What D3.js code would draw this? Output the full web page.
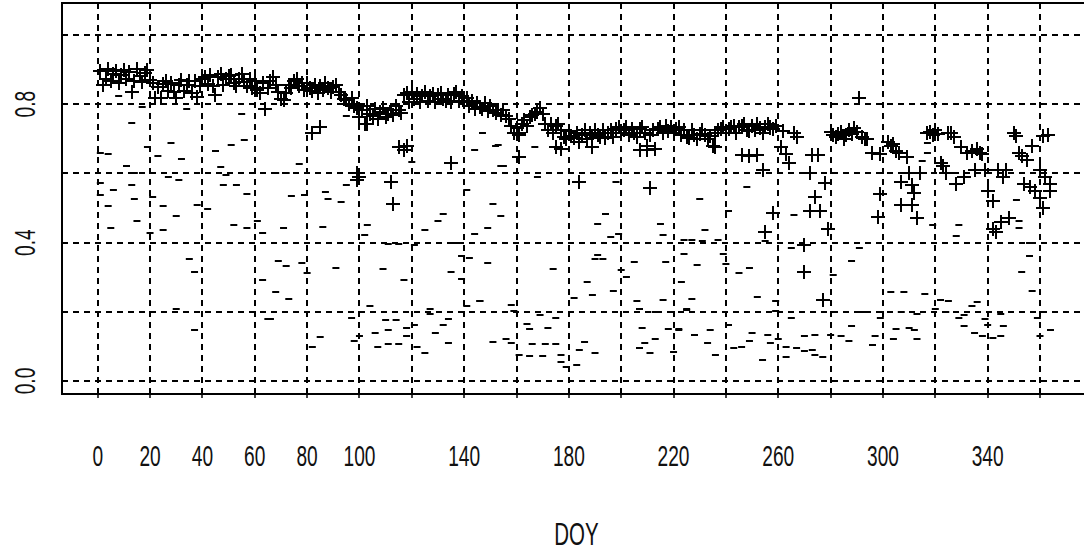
<!DOCTYPE html>
<html>
<head>
<meta charset="utf-8">
<script src="https://cdn.jsdelivr.net/npm/d3@7/dist/d3.min.js"></script>
<style>
  html, body { margin: 0; padding: 0; background: #fff; }
  svg { display: block; }
  .lbl { font-family: "Liberation Sans", Arial, sans-serif; fill: #111; }
</style>
</head>
<body>
<svg id="chart" width="1084" height="552"></svg>
<script>
// ---- data -------------------------------------------------------------
// "+" series: daily values for DOY 1..258 (index i -> DOY i + 1)
const plusDaily = [
  0.895,0.856,0.872,0.901,0.868,0.888,0.897,0.862,0.884,0.899,
  0.872,0.893,0.836,0.868,0.902,0.881,0.864,0.889,0.898,0.870,
  0.862,0.818,0.850,0.817,0.858,0.868,0.838,0.862,0.835,0.817,
  0.856,0.870,0.838,0.855,0.866,0.832,0.868,0.820,0.852,0.872,
  0.880,0.858,0.885,0.852,0.826,0.878,0.886,0.855,0.872,0.881,
  0.884,0.862,0.852,0.874,0.886,0.864,0.852,0.874,0.846,0.866,
  0.842,0.832,0.862,0.787,0.848,0.868,0.878,0.856,0.835,0.815,
  0.812,0.832,0.856,0.848,0.866,0.872,0.852,0.862,0.842,0.860,
  0.846,0.838,0.856,0.832,0.854,0.840,0.862,0.846,0.834,0.850,
  0.856,0.836,0.826,0.815,0.812,0.800,0.818,0.796,0.788,0.762,
  0.784,0.743,0.794,0.772,0.766,0.786,0.758,0.778,0.790,0.762,
  0.772,0.784,0.770,0.794,0.782,0.776,0.826,0.832,0.806,0.836,
  0.816,0.830,0.806,0.824,0.836,0.810,0.824,0.830,0.806,0.826,
  0.832,0.816,0.810,0.826,0.806,0.830,0.835,0.810,0.824,0.806,
  0.818,0.796,0.808,0.786,0.804,0.792,0.786,0.804,0.780,0.794,
  0.782,0.776,0.784,0.770,0.784,0.766,0.756,0.738,0.718,0.732,
  0.712,0.742,0.754,0.736,0.764,0.768,0.772,0.778,0.788,0.772,
  0.742,0.726,0.744,0.716,0.738,0.742,0.726,0.706,0.698,0.722,
  0.708,0.702,0.718,0.690,0.712,0.724,0.698,0.718,0.702,0.724,
  0.712,0.706,0.724,0.702,0.718,0.724,0.706,0.728,0.734,0.716,
  0.724,0.733,0.712,0.728,0.716,0.706,0.728,0.734,0.716,0.680,
  0.712,0.724,0.670,0.728,0.734,0.716,0.738,0.722,0.733,0.716,
  0.728,0.734,0.712,0.724,0.706,0.702,0.724,0.712,0.698,0.714,
  0.724,0.712,0.698,0.708,0.680,0.718,0.724,0.728,0.734,0.716,
  0.728,0.734,0.738,0.716,0.733,0.738,0.744,0.726,0.722,0.738,
  0.726,0.744,0.732,0.718,0.734,0.742,0.732,0.728
];

// "+" series: scattered and late-season observations
const plusExtraDoy = [
  82,85,99,99,100,103,112,113,115,117,118,135,161,161,175,177,184,189,207,210,
  211,236,246,249,252,254,255,258,257,259,261,262,263,264,266,267,270,270,272,272,
  273,274,275,276,277,278,279,280,281,282,283,284,285,286,287,288,289,290,291,292,
  293,294,296,298,299,299,302,303,304,305,306,307,307,309,310,311,311,312,313,314,
  317,318,319,320,321,322,323,324,325,326,327,328,330,331,332,334,335,336,337,338,
  339,340,342,342,343,344,345,346,347,348,350,351,352,353,354,355,356,357,358,360,
  360,361,361,362,363,364,364
];
const plusExtraVal = [
  0.716,0.735,0.600,0.581,0.590,0.743,0.576,0.512,0.677,0.668,0.680,0.630,0.648,0.716,0.677,0.670,0.576,0.677,0.668,0.668,
  0.557,0.677,0.653,0.650,0.653,0.610,0.431,0.485,0.735,0.738,0.675,0.723,0.657,0.630,0.716,0.704,0.393,0.316,0.600,0.490,
  0.653,0.532,0.653,0.490,0.234,0.572,0.438,0.720,0.710,0.705,0.715,0.720,0.700,0.710,0.725,0.715,0.730,0.720,0.817,0.705,
  0.700,0.700,0.660,0.473,0.540,0.655,0.690,0.680,0.685,0.665,0.660,0.509,0.575,0.647,0.600,0.566,0.509,0.542,0.471,0.600,
  0.716,0.720,0.712,0.725,0.715,0.630,0.620,0.600,0.716,0.718,0.705,0.570,0.675,0.590,0.660,0.665,0.610,0.670,0.660,0.657,
  0.610,0.550,0.520,0.440,0.430,0.610,0.460,0.590,0.610,0.470,0.716,0.708,0.660,0.650,0.570,0.640,0.560,0.680,0.550,0.530,
  0.610,0.708,0.500,0.590,0.710,0.550,0.570
];

// "-" series
const dashDoy = [
  1,8,17,13,34,55,28,51,56,19,4,23,32,45,47,11,14,27,31,49,48,53,1,6,13,57,4,14,21,25,30,38,42,1,15,5,20,25,52,57,63,61,35,37,63,30,37,65,
  95,77,68,72,95,74,79,87,88,93,71,86,103,102,111,115,121,125,130,132,137,139,142,144,144,141,120,69,72,78,91,109,117,80,68,73,135,139,146,
  66,97,104,110,114,111,118,121,127,127,134,132,129,85,82,98,100,106,107,111,115,118,122,125,134,141,
  147,153,167,155,168,198,151,154,149,194,191,215,216,196,199,224,191,190,193,149,174,205,217,224,200,202,187,189,197,182,206,216,223,
  158,146,159,169,175,207,213,225,164,165,172,208,218,222,151,156,158,166,171,175,161,165,170,177,177,179,183,184,190,186,209,213,207,211,220,222,152,154,
  248,230,241,266,232,227,231,237,239,255,265,229,240,245,249,281,288,291,227,252,259,225,259,265,292,299,288,241,234,228,250,256,260,270,274,284,287,297,296,
  233,246,249,257,263,267,273,277,263,236,243,254,270,274,280,
  317,315,319,329,328,352,352,351,356,356,353,357,303,308,316,322,325,336,334,331,329,320,324,307,313,339,345,340,346,331,335,338,342,345,312,310,305,313,304,359,364,360,317
];
const dashVal = [
  0.658,0.825,0.792,0.745,0.785,0.771,0.689,0.681,0.697,0.676,0.655,0.650,0.643,0.666,0.618,0.622,0.600,0.589,0.581,0.596,0.566,0.566,0.571,0.551,0.566,0.540,0.505,0.525,0.532,0.505,0.478,0.510,0.497,0.537,0.463,0.443,0.428,0.435,0.450,0.443,0.428,0.463,0.353,0.314,0.291,0.207,0.148,0.178,
  0.765,0.627,0.600,0.600,0.566,0.534,0.537,0.546,0.525,0.517,0.441,0.446,0.450,0.422,0.397,0.397,0.392,0.436,0.463,0.483,0.399,0.360,0.355,0.424,0.669,0.551,0.633,0.347,0.333,0.340,0.328,0.325,0.291,0.313,0.258,0.237,0.314,0.296,0.232,
  0.180,0.181,0.217,0.176,0.176,0.148,0.153,0.163,0.207,0.193,0.180,0.163,0.140,0.127,0.099,0.116,0.129,0.139,0.099,0.106,0.106,0.129,0.099,0.080,0.109,0.217,
  0.718,0.681,0.676,0.620,0.589,0.574,0.512,0.478,0.443,0.483,0.455,0.455,0.422,0.416,0.424,0.407,0.365,0.353,0.353,0.340,0.325,0.345,0.345,0.368,0.320,0.301,0.286,0.250,0.261,0.240,0.232,0.235,0.286,
  0.220,0.232,0.203,0.190,0.183,0.207,0.200,0.205,0.166,0.151,0.153,0.153,0.150,0.150,0.114,0.121,0.109,0.106,0.106,0.106,0.075,0.072,0.072,0.075,0.055,0.040,0.045,0.091,0.080,0.112,0.111,0.121,0.094,0.080,0.085,0.148,0.680,0.622,
  0.561,0.525,0.490,0.480,0.435,0.407,0.406,0.407,0.368,0.404,0.384,0.335,0.337,0.313,0.327,0.306,0.348,0.384,0.237,0.244,0.232,0.207,0.202,0.183,0.200,0.182,0.160,0.163,0.148,0.134,0.139,0.132,0.122,0.129,0.134,0.129,0.117,0.129,0.104,
  0.109,0.099,0.116,0.109,0.099,0.094,0.091,0.070,0.070,0.075,0.096,0.060,0.087,0.075,0.134,
  0.689,0.635,0.451,0.451,0.419,0.463,0.443,0.524,0.399,0.360,0.314,0.261,0.257,0.258,0.252,0.235,0.232,0.229,0.217,0.191,0.183,0.207,0.200,0.200,0.193,0.180,0.193,0.163,0.160,0.160,0.140,0.129,0.124,0.131,0.148,0.153,0.150,0.121,0.121,0.183,0.148,0.129,0.660
];

// axis ticks and labels
const xGridTicks = d3.range(0, 361, 20);
const xTickLabels = [0, 20, 40, 60, 80, 100, 140, 180, 220, 260, 300, 340];
const yGridTicks = [0, 0.2, 0.4, 0.6, 0.8, 1.0];
const yTickLabels = [0, 0.4, 0.8];
const xTitle = "DOY";

// ---- layout -------------------------------------------------------------
const svg = d3.select("#chart");
const plot = { left: 62, top: 3, right: 1091, bottom: 394 };

const x = d3.scaleLinear().domain([0, 360]).range([97.7, 1040]);
const y = d3.scaleLinear().domain([0, 1]).range([381, 35]);
const px = v => Math.round(v);

svg.append("defs").append("clipPath").attr("id", "plotclip")
  .append("rect")
  .attr("x", plot.left).attr("y", plot.top)
  .attr("width", plot.right - plot.left).attr("height", plot.bottom - plot.top);

const body = svg.append("g").attr("clip-path", "url(#plotclip)");

// dashed grid
body.append("g").selectAll("line").data(xGridTicks).join("line")
  .attr("x1", d => px(x(d))).attr("x2", d => px(x(d)))
  .attr("y1", plot.bottom).attr("y2", plot.top)
  .attr("stroke", "#000").attr("stroke-width", 2)
  .attr("stroke-dasharray", "6,5");
body.append("g").selectAll("line").data(yGridTicks).join("line")
  .attr("y1", d => px(y(d))).attr("y2", d => px(y(d)))
  .attr("x1", plot.left).attr("x2", plot.right)
  .attr("stroke", "#000").attr("stroke-width", 2)
  .attr("stroke-dasharray", "6,5");

// "-" markers
const dashPts = dashDoy.map((d, i) => [d, dashVal[i]]);
body.append("g").selectAll("line").data(dashPts).join("line")
  .attr("x1", d => x(d[0]) - 3.5).attr("x2", d => x(d[0]) + 3.5)
  .attr("y1", d => px(y(d[1]))).attr("y2", d => px(y(d[1])))
  .attr("stroke", "#000").attr("stroke-width", 2);

// "+" markers
const plusPts = plusDaily.map((v, i) => [i + 1, v])
  .concat(plusExtraDoy.map((d, i) => [d, plusExtraVal[i]]));
body.append("g").selectAll("path").data(plusPts).join("path")
  .attr("transform", d => `translate(${px(x(d[0]))},${px(y(d[1]))})`)
  .attr("d", "M-7,0H7M0,-7V7")
  .attr("fill", "none").attr("stroke", "#000").attr("stroke-width", 2);

// frame
svg.append("rect")
  .attr("x", plot.left).attr("y", plot.top)
  .attr("width", plot.right - plot.left).attr("height", plot.bottom - plot.top)
  .attr("fill", "none").attr("stroke", "#000").attr("stroke-width", 2);

// bottom tick marks
svg.append("g").selectAll("line").data(xGridTicks).join("line")
  .attr("x1", d => px(x(d))).attr("x2", d => px(x(d)))
  .attr("y1", plot.bottom).attr("y2", plot.bottom + 4)
  .attr("stroke", "#000").attr("stroke-width", 1.5);

// tick labels (narrow glyphs)
const sx = 0.66;
svg.append("g").selectAll("g").data(xTickLabels).join("g")
  .attr("transform", d => `translate(${x(d)},466) scale(${sx},1)`)
  .append("text").attr("class", "lbl")
  .attr("text-anchor", "middle").attr("font-size", 29)
  .text(d => d);

svg.append("g").selectAll("g").data(yTickLabels).join("g")
  .attr("transform", d => `translate(35,${y(d)}) rotate(-90) scale(${sx},1)`)
  .append("text").attr("class", "lbl")
  .attr("text-anchor", "middle").attr("font-size", 29)
  .text(d => d3.format(".1f")(d));

svg.append("g")
  .attr("transform", `translate(${(plot.left + plot.right) / 2},545) scale(${sx},1)`)
  .append("text").attr("class", "lbl")
  .attr("text-anchor", "middle").attr("font-size", 31)
  .text(xTitle);
</script>
</body>
</html>
